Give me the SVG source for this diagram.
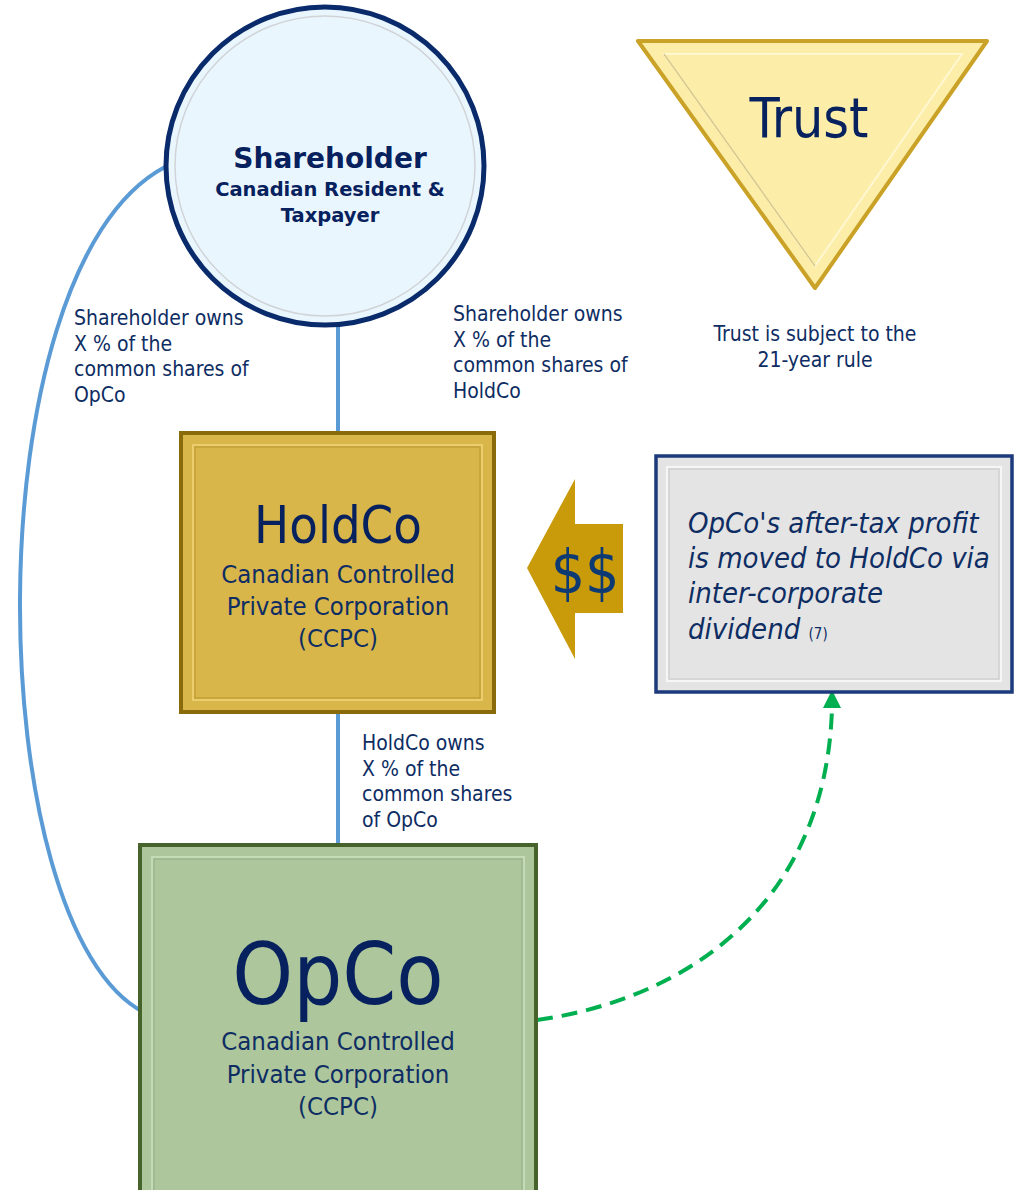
<svg xmlns="http://www.w3.org/2000/svg" width="1015" height="1190" viewBox="0 0 1015 1190">
<style>
.t{font-family:"DejaVu Sans Condensed","DejaVu Sans",sans-serif;fill:#0E2D63}
.b{font-family:"DejaVu Sans",sans-serif;font-weight:bold;fill:#06215E}
.lbl{font-size:21px}
.big{fill:#06215E}
.conn{fill:none;stroke:#5B9BD5;stroke-width:4}
</style>
<rect width="1015" height="1190" fill="#fff"/>

<g id="connectors">
<path class="conn" d="M165,167 C -30,270 -20,930 145,1013"/>
<line class="conn" x1="338" y1="322" x2="338" y2="434"/>
<line class="conn" x1="338" y1="712" x2="338" y2="846"/>
<path d="M537,1020 C 680,1000 826,910 832,708" fill="none" stroke="#00B050" stroke-width="4" stroke-dasharray="16,9"/>
<path d="M832,690 L841,708 L823,708 z" fill="#00B050"/>
</g>

<g id="shareholder">
<circle cx="325" cy="166" r="159" fill="#EAF6FD" stroke="#0A2B6B" stroke-width="5"/>
<circle cx="325" cy="166" r="150" fill="none" stroke="#D0D4D8" stroke-width="1.5"/>
<text class="b" x="330" y="168" font-size="28" text-anchor="middle">Shareholder</text>
<text class="b" x="330" y="196" font-size="19.5" text-anchor="middle">Canadian Resident &amp;</text>
<text class="b" x="330" y="222" font-size="19.5" text-anchor="middle">Taxpayer</text>
</g>

<g id="trust">
<path d="M638,41 L987,41 L815,288 z" fill="#FCEEA9" stroke="#C9A227" stroke-width="4" stroke-linejoin="round"/>
<path d="M664,54 L962,54 L815,266 z" fill="none" stroke="#FFF7D0" stroke-width="2"/>
<path d="M664,54 L815,266" fill="none" stroke="#D8C98C" stroke-width="1.5"/>
<text class="t big" x="809" y="137" font-size="55" text-anchor="middle">Trust</text>
</g>
<g id="trust-note">
<text class="t lbl" x="815" y="341" text-anchor="middle">Trust is subject to the</text>
<text class="t lbl" x="815" y="367" text-anchor="middle">21-year rule</text>
</g>

<g id="holdco">
<rect x="181" y="433" width="313" height="279" fill="#D9B64A" stroke="#8A6B0B" stroke-width="4"/>
<rect x="193" y="445" width="289" height="255" fill="none" stroke="#EBCD6E" stroke-width="2"/>
<rect x="195" y="447" width="285" height="251" fill="none" stroke="#B8962E" stroke-width="1"/>
<text class="t big" x="338" y="543" font-size="52" text-anchor="middle">HoldCo</text>
<text class="t" x="338" y="583" font-size="25.5" text-anchor="middle">Canadian Controlled</text>
<text class="t" x="338" y="615" font-size="25.5" text-anchor="middle">Private Corporation</text>
<text class="t" x="338" y="647" font-size="25.5" text-anchor="middle">(CCPC)</text>
</g>

<g id="dollar-arrow">
<path d="M527,568 L575,479 L575,524 L623,524 L623,613 L575,613 L575,659 z" fill="#C99A0A"/>
<text class="t" x="585" y="593" font-size="60" text-anchor="middle" style="fill:#0E3A74">$$</text>
</g>

<g id="note">
<rect x="656" y="456" width="356" height="236" fill="#E4E4E4" stroke="#1C3A7C" stroke-width="3.5"/>
<rect x="667" y="467" width="334" height="214" fill="none" stroke="#F6F6F6" stroke-width="2"/>
<rect x="669" y="469" width="330" height="210" fill="none" stroke="#C8C8C8" stroke-width="1"/>
<text class="t" font-style="italic" font-size="29" x="688" y="533">OpCo's after-tax profit</text>
<text class="t" font-style="italic" font-size="29" x="688" y="568">is moved to HoldCo via</text>
<text class="t" font-style="italic" font-size="29" x="688" y="603">inter-corporate</text>
<text class="t" font-style="italic" font-size="29" x="688" y="639">dividend <tspan font-style="normal" font-size="15">(7)</tspan></text>
</g>

<g id="opco">
<rect x="140" y="845" width="396" height="360" fill="#ADC69C" stroke="#45632B" stroke-width="4"/>
<rect x="152" y="857" width="372" height="340" fill="none" stroke="#C5DAB6" stroke-width="2"/>
<rect x="154" y="859" width="368" height="336" fill="none" stroke="#98AE88" stroke-width="1"/>
<text class="t big" x="338" y="1004" font-size="86" text-anchor="middle">OpCo</text>
<text class="t" x="338" y="1050" font-size="25.5" text-anchor="middle">Canadian Controlled</text>
<text class="t" x="338" y="1083" font-size="25.5" text-anchor="middle">Private Corporation</text>
<text class="t" x="338" y="1115" font-size="25.5" text-anchor="middle">(CCPC)</text>
</g>

<g id="labels">
<text class="t lbl" x="74" y="325">Shareholder owns</text>
<text class="t lbl" x="74" y="351">X % of the</text>
<text class="t lbl" x="74" y="376">common shares of</text>
<text class="t lbl" x="74" y="402">OpCo</text>
<text class="t lbl" x="453" y="321">Shareholder owns</text>
<text class="t lbl" x="453" y="347">X % of the</text>
<text class="t lbl" x="453" y="372">common shares of</text>
<text class="t lbl" x="453" y="398">HoldCo</text>
<text class="t lbl" x="362" y="750">HoldCo owns</text>
<text class="t lbl" x="362" y="776">X % of the</text>
<text class="t lbl" x="362" y="801">common shares</text>
<text class="t lbl" x="362" y="827">of OpCo</text>
</g>
</svg>
